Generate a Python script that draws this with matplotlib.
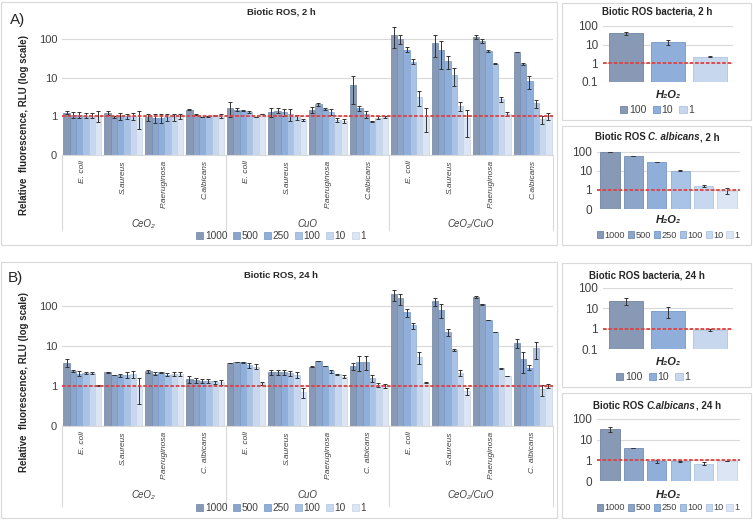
import numpy as np
import matplotlib.pyplot as plt
from matplotlib.patches import Rectangle
from matplotlib.offsetbox import TextArea, HPacker, AnchoredOffsetbox

plt.rcParams['font.family'] = ['Liberation Sans', 'DejaVu Sans']

# ---- data -------------------------------------------------------------
conc = ['1000', '500', '250', '100', '10', '1']
conc_bact = ['100', '10', '1']
materials = ['CeO₂', 'CuO', 'CeO₂/CuO']
organisms_2h = ['E. coli', 'S.aureus', 'P.aeruginosa', 'C.albicans']
organisms_24h = ['E. coli', 'S.aureus', 'P.aeruginosa', 'C. albicans']

# rows = organisms, columns = concentrations (1000 ... 1)
ceo2_2h = [[1.25, 1.1, 1.1, 1.05, 1.05, 1.05],
           [1.22, 0.98, 1.02, 1.02, 1.02, 0.92],
           [0.96, 0.92, 0.92, 0.95, 0.98, 1.0],
           [1.5, 1.1, 0.96, 1.0, 1.06, 1.02]]
ceo2_2h_err = [[0.12, 0.2, 0.2, 0.15, 0.15, 0.35],
               [0.15, 0.05, 0.2, 0.15, 0.2, 0.45],
               [0.2, 0.25, 0.25, 0.2, 0.2, 0.15],
               [0.05, 0.03, 0.02, 0.02, 0.03, 0.1]]
cuo_2h = [[1.64, 1.49, 1.4, 1.29, 0.95, 1.15],
          [1.3, 1.4, 1.3, 1.15, 0.94, 0.8],
          [1.49, 2.04, 1.58, 1.32, 0.8, 0.76],
          [6.6, 1.64, 1.13, 0.74, 0.92, 0.96]]
cuo_2h_err = [[0.7, 0.15, 0.05, 0.05, 0.0, 0.03],
              [0.35, 0.2, 0.25, 0.4, 0.15, 0.05],
              [0.3, 0.2, 0.1, 0.25, 0.08, 0.08],
              [4.5, 0.25, 0.25, 0.02, 0.08, 0.05]]
mix_2h = [[129, 100, 53, 26, 3.1, 1.0],
          [79, 52, 27, 12, 1.9, 0.9],
          [113, 89, 49, 23, 2.8, 1.15],
          [46, 22.4, 8.0, 2.15, 0.85, 1.0]]
mix_2h_err = [[70, 25, 8, 4, 1.3, 0.6],
              [45, 35, 10, 6, 0.5, 0.6],
              [15, 10, 4, 1, 0.4, 0.15],
              [1, 1, 3, 0.5, 0.2, 0.2]]

ceo2_24h = [[3.8, 2.3, 2.0, 2.1, 2.1, 1.04],
            [2.15, 1.85, 1.8, 1.85, 1.95, 0.95],
            [2.3, 2.0, 2.15, 1.9, 1.95, 2.0],
            [1.45, 1.38, 1.32, 1.33, 1.22, 1.22]]
ceo2_24h_err = [[0.8, 0.1, 0.3, 0.1, 0.1, 0.03],
                [0.1, 0.05, 0.15, 0.3, 0.4, 0.6],
                [0.2, 0.2, 0.1, 0.15, 0.25, 0.25],
                [0.25, 0.2, 0.15, 0.15, 0.1, 0.15]]
cuo_24h = [[3.7, 3.9, 3.9, 3.3, 3.0, 1.15],
           [2.15, 2.15, 2.15, 2.05, 1.9, 0.7],
           [2.98, 4.1, 3.1, 2.33, 1.95, 1.68],
           [3.1, 3.9, 3.9, 1.55, 1.04, 1.0]]
cuo_24h_err = [[0.05, 0.05, 0.1, 0.5, 0.4, 0.1],
               [0.3, 0.3, 0.35, 0.3, 0.35, 0.2],
               [0.1, 0.05, 0.05, 0.2, 0.05, 0.15],
               [0.6, 1.6, 1.5, 0.3, 0.1, 0.1]]
mix_24h = [[192, 152, 68, 32, 5.3, 1.19],
           [128, 78, 21.5, 7.8, 2.1, 0.74],
           [165, 108, 44, 22, 2.7, 1.75],
           [11.7, 4.55, 2.8, 8.6, 0.81, 1.0]]
mix_24h_err = [[60, 45, 15, 6, 1.8, 0.03],
               [30, 30, 4, 0.3, 0.4, 0.15],
               [5, 3, 0.5, 0.3, 0.15, 0.03],
               [3, 2.5, 0.4, 4, 0.25, 0.1]]

# H2O2 controls
bact_2h = [41, 13.3, 2.3]
bact_2h_err = [8, 4, 0.1]
calb_2h = [98, 60, 28.5, 10.4, 1.65, 0.9]
calb_2h_err = [3, 2, 1, 0.4, 0.2, 0.3]
bact_24h = [23, 7.4, 0.86]
bact_24h_err = [8, 4, 0.05]
calb_24h = [32, 3.9, 0.93, 0.9, 0.69, 0.9]
calb_24h_err = [10, 0.1, 0.15, 0.05, 0.1, 0.02]

# ---- style ------------------------------------------------------------
colors = ['#8799B5', '#8CA5C8', '#8FAFDA', '#A9C3E6', '#C6D7EE', '#DCE5F3']
edges = ['#6F84A3', '#738FB5', '#7498C6', '#8EABD3', '#AFC4E0', '#C5D3E8']
bact_idx = [0, 2, 4]
grid_c = '#D9D9D9'
red = '#E0403F'
W, H = 753, 520


def fx(px):
    return px / W


def fy(py):
    return 1 - py / H


def style_log_axis(ax, ylim, labels, fs):
    ax.set_yscale('log')
    ax.set_ylim(*ylim)
    ticks = [0.1, 1, 10, 100]
    ax.set_yticks(ticks)
    ax.set_yticklabels(labels, fontsize=fs)
    ax.minorticks_off()
    ax.yaxis.grid(True, color=grid_c, lw=0.8, zorder=0)
    ax.set_axisbelow(True)
    for s in ['top', 'right', 'left']:
        ax.spines[s].set_visible(False)
    ax.spines['bottom'].set_color(grid_c)
    ax.tick_params(axis='both', length=0, colors='#404040')
    ax.axhline(1, color=red, ls=(0, (2, 1)), lw=1.3, zorder=4)


def rich(x, y, parts, fs):
    boxes = [TextArea(t, textprops=dict(fontsize=fs, fontweight='bold', fontstyle=st, color='#262626'))
             for t, st in parts]
    pack = HPacker(children=boxes, align='baseline', pad=0, sep=0)
    ab = AnchoredOffsetbox(loc='center', child=pack, pad=0, frameon=False,
                           bbox_to_anchor=(x, y), bbox_transform=fig.transFigure, borderpad=0)
    fig.add_artist(ab)


def legend_at(ax, x, y, fs, cspace):
    ax.legend(loc='center', bbox_to_anchor=(x, y), bbox_transform=fig.transFigure, ncol=6,
              frameon=False, fontsize=fs, handlelength=0.7, handleheight=0.7, handletextpad=0.15,
              columnspacing=cspace, borderpad=0, labelcolor='#404040')


def main_panel(ax, vals, errs, organisms, ytop, mat_y):
    vals = np.array(vals)
    errs = np.array(errs)
    n = len(vals)
    w = 0.155
    for j in range(6):
        x = np.arange(n) + (j - 2.5) * w
        ax.bar(x, vals[:, j], w, color=colors[j], edgecolor=edges[j], lw=0.5,
               label=conc[j], zorder=2)
        ax.errorbar(x, vals[:, j], yerr=errs[:, j], fmt='none', ecolor='#333333',
                    elinewidth=0.7, capsize=1.2, capthick=0.7, zorder=3)
    ax.set_xlim(-0.5, n - 0.5)
    ax.set_xticks([])
    style_log_axis(ax, (0.1, ytop), ['0', '1', '10', '100'], 8)
    trans = ax.get_xaxis_transform()
    for i, name in enumerate(organisms * 3):
        ax.text(i, -0.04, name, transform=trans, rotation=90, ha='center', va='top',
                fontstyle='italic', fontsize=6, color='#404040')
    for k, m in enumerate(materials):
        ax.text(1.5 + 4 * k, mat_y, m, transform=trans, ha='center', va='center',
                fontstyle='italic', fontsize=7, color='#404040')
    for xs in [-0.5, 3.5, 7.5, 11.5]:
        ax.plot([xs, xs], [0, -0.58], transform=trans, color=grid_c, lw=0.8, clip_on=False)


def small_panel(ax, vals, errs, idx, labels):
    n = len(vals)
    x = np.arange(n)
    for i in range(n):
        ax.bar(x[i], vals[i], 0.82, color=colors[idx[i]], edgecolor=edges[idx[i]], lw=0.6,
               label=labels[i], zorder=2)
    ax.errorbar(x, vals, yerr=errs, fmt='none', ecolor='#333333', elinewidth=0.7,
                capsize=1.2, capthick=0.7, zorder=3)
    ax.set_xlim(-0.55, n - 0.45)
    ax.set_xticks([])
    ax.spines['bottom'].set_visible(False)


fig = plt.figure(figsize=(W / 100, H / 100), dpi=100)

# frames
for (x0, y0, x1, y1) in [(1, 2, 557, 245), (1, 262, 557, 518), (562, 3, 751, 120),
                         (562, 126, 751, 245), (562, 263, 751, 387), (562, 393, 751, 518)]:
    fig.patches.append(Rectangle((fx(x0), fy(y1)), fx(x1 - x0), (y1 - y0) / H,
                                 transform=fig.transFigure, fill=False, ec='#D9D9D9', lw=0.8))

# ---- A) main ----------------------------------------------------------
axA = fig.add_axes([fx(62), fy(155), fx(491), 130 / H])
main_panel(axA, ceo2_2h + cuo_2h + mix_2h, ceo2_2h_err + cuo_2h_err + mix_2h_err,
           organisms_2h, 230, -0.53)
legend_at(axA, fx(281), fy(236), 7.3, 0.55)
fig.text(fx(281), fy(12), 'Biotic ROS, 2 h', ha='center', va='center', fontsize=6.8,
         fontweight='bold', color='#262626')
fig.text(fx(24), fy(125), 'Relative  fluorescence, RLU (log scale)', rotation=90,
         ha='center', va='center', fontsize=7, fontweight='bold', color='#262626')
fig.text(fx(10), fy(20), 'A)', ha='left', va='center', fontsize=11, color='#262626')

# ---- B) main ----------------------------------------------------------
axB = fig.add_axes([fx(62), fy(425.7), fx(491), 137.7 / H])
main_panel(axB, ceo2_24h + cuo_24h + mix_24h, ceo2_24h_err + cuo_24h_err + mix_24h_err,
           organisms_24h, 277, -0.503)
legend_at(axB, fx(281), fy(508), 7.3, 0.55)
fig.text(fx(281), fy(275), 'Biotic ROS, 24 h', ha='center', va='center', fontsize=6.8,
         fontweight='bold', color='#262626')
fig.text(fx(24), fy(382), 'Relative  fluorescence, RLU (log scale)', rotation=90,
         ha='center', va='center', fontsize=7, fontweight='bold', color='#262626')
fig.text(fx(8), fy(278), 'B)', ha='left', va='center', fontsize=11, color='#262626')

# ---- small panels -----------------------------------------------------
ax1 = fig.add_axes([fx(603), fy(82), fx(130), 56 / H])
small_panel(ax1, bact_2h, bact_2h_err, bact_idx, conc_bact)
style_log_axis(ax1, (0.1, 100), ['0.1', '1', '10', '100'], 8.5)
legend_at(ax1, fx(657), fy(110), 7.5, 0.6)
rich(fx(657), fy(12), [('Biotic ROS bacteria, 2 h', 'normal')], 7)
rich(fx(668), fy(95), [('H₂O₂', 'italic')], 8)

ax2 = fig.add_axes([fx(597), fy(209), fx(143), 58 / H])
small_panel(ax2, calb_2h, calb_2h_err, list(range(6)), conc)
style_log_axis(ax2, (0.1, 110), ['0', '1', '10', '100'], 8.5)
legend_at(ax2, fx(668), fy(235), 6.6, 0.3)
rich(fx(657), fy(137), [('Biotic ROS ', 'normal'), ('C. albicans', 'italic'), (', 2 h', 'normal')], 7)
rich(fx(668), fy(220), [('H₂O₂', 'italic')], 8)

ax3 = fig.add_axes([fx(603), fy(349), fx(130), 61 / H])
small_panel(ax3, bact_24h, bact_24h_err, bact_idx, conc_bact)
style_log_axis(ax3, (0.1, 100), ['0.1', '1', '10', '100'], 8.5)
legend_at(ax3, fx(653), fy(377), 7.5, 0.6)
rich(fx(647), fy(275), [('Biotic ROS bacteria, 24 h', 'normal')], 7)
rich(fx(668), fy(362), [('H₂O₂', 'italic')], 8)

ax4 = fig.add_axes([fx(597), fy(481), fx(143), 63 / H])
small_panel(ax4, calb_24h, calb_24h_err, list(range(6)), conc)
style_log_axis(ax4, (0.1, 110), ['0', '1', '10', '100'], 8.5)
legend_at(ax4, fx(668), fy(508), 6.6, 0.3)
rich(fx(657), fy(406), [('Biotic ROS ', 'normal'), ('C.albicans', 'italic'), (', 24 h', 'normal')], 7)
rich(fx(668), fy(495), [('H₂O₂', 'italic')], 8)

fig.savefig('out.png', dpi=100)
